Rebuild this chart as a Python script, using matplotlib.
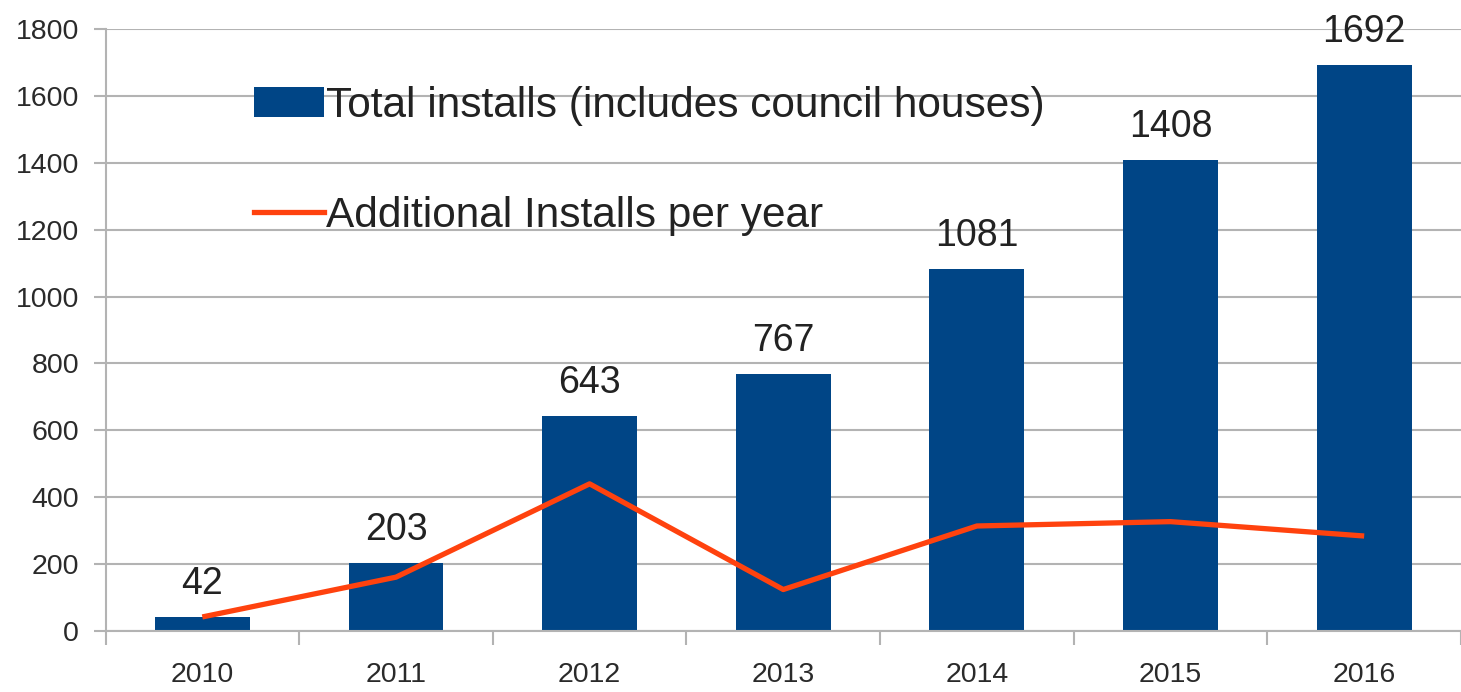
import matplotlib
matplotlib.use("Agg")
import matplotlib.pyplot as plt
from matplotlib.patches import Patch
from matplotlib.lines import Line2D
import numpy as np

years = ["2010", "2011", "2012", "2013", "2014", "2015", "2016"]
total_installs = [42, 203, 643, 767, 1081, 1408, 1692]
additional_installs = [42, 161, 440, 124, 314, 327, 284]
y_ticks = [0, 200, 400, 600, 800, 1000, 1200, 1400, 1600, 1800]
legend_labels = ["Total installs (includes council houses)", "Additional Installs per year"]

BAR = "#004586"
LINE = "#ff420e"
GRID = "#b3b3b3"
SANS = ["Liberation Sans", "DejaVu Sans"]

W, H = 1461, 692
fig = plt.figure(figsize=(W / 100, H / 100), dpi=100)
left, right, bottom, top = 105.5, 1461, 631, 29
ax = fig.add_axes([left / W, (H - bottom) / H, (right - left) / W, (bottom - top) / H])

x = np.arange(len(years))
bars = ax.bar(x, total_installs, width=0.49, color=BAR, zorder=2)
line, = ax.plot(x, additional_installs, color=LINE, lw=3.8, zorder=3,
                solid_joinstyle="round", solid_capstyle="butt")

ax.set_xlim(-0.5, (right - left) / 195.0 - 0.5)
ax.set_ylim(0, 1800)
ax.set_yticks(y_ticks)
ax.set_yticklabels([str(v) for v in y_ticks], family=SANS, fontsize=20.5, color="#2a2a2a")
ax.set_xticks(x)
ax.set_xticklabels(years, family=SANS, fontsize=20.5, color="#2a2a2a")
ax.set_xticks(np.arange(-0.5, len(years) - 0.4, 1.0), minor=True)
ax.tick_params(axis="x", which="major", length=0, pad=22)
ax.tick_params(axis="x", which="minor", length=10, width=1.5, color=GRID)
ax.tick_params(axis="y", which="major", length=9, width=1.5, color=GRID, pad=10)

ax.grid(axis="y", color=GRID, lw=1.5, zorder=0)
ax.set_axisbelow(True)
for s in ["top", "right"]:
    ax.spines[s].set_visible(False)
ax.spines["left"].set_color(GRID)
ax.spines["left"].set_linewidth(1.5)
ax.spines["bottom"].set_color(GRID)
ax.spines["bottom"].set_linewidth(1.5)

for xi, v in zip(x, total_installs):
    ax.annotate(str(v), (xi, v), xytext=(0, 11), textcoords="offset points",
                ha="center", va="bottom", family=SANS, fontsize=27, color="#222222")

handles = [Patch(facecolor=BAR, edgecolor="none"), Line2D([], [], color=LINE, lw=3.8)]
leg = ax.legend(handles, legend_labels, loc="upper left",
                bbox_to_anchor=(254 / W, (H - 86) / H), bbox_transform=fig.transFigure,
                frameon=False, prop={"family": SANS, "size": 30.5},
                handlelength=1.65, handleheight=0.7, handletextpad=0.05, labelspacing=1.65,
                borderaxespad=0, borderpad=0)
for t in leg.get_texts():
    t.set_color("#222222")

fig.savefig("out.png", dpi=100)
